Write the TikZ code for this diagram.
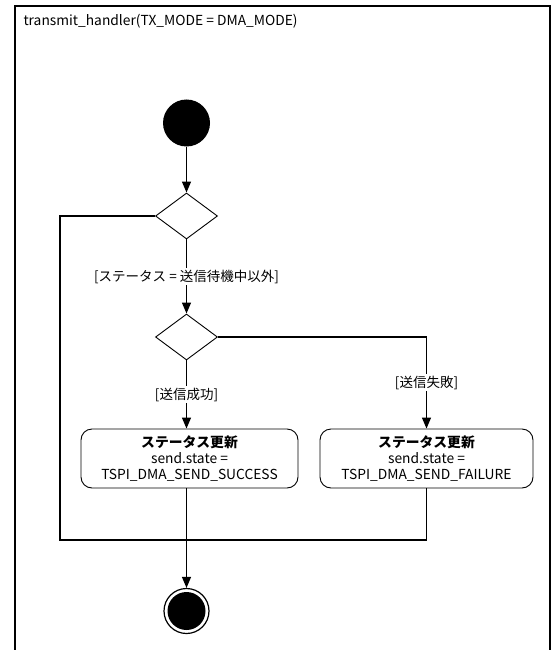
\documentclass[tikz,border=0pt]{standalone}
\usepackage{fontspec}
\setmainfont{Noto Sans CJK JP}
\usepackage{tikz}
\usetikzlibrary{arrows.meta,shapes.geometric,positioning,calc}

\tikzset{
  flow/.style = {line width = 1.2pt, -{Triangle[length = 11pt, width = 9pt]}},
  plain/.style = {line width = 1.2pt},
  decision/.style = {diamond, draw, line width = 0.9pt, fill = white,
    minimum width = 62pt, minimum height = 46pt, inner sep = 0pt},
  action/.style = {draw, line width = 0.9pt, rounded corners = 11pt, fill = white,
    minimum height = 59pt, align = center, inner sep = 2pt},
  guard/.style = {fill = white, inner sep = 1.5pt, font = \fontsize{13.5}{16}\selectfont}
}

\begin{document}
\begin{tikzpicture}[x = 1pt, y = -1pt, font = \fontsize{13.8}{16}\selectfont]
    \useasboundingbox (0,0) rectangle (552,650);
    % frame
    \draw[line width = 1.8pt] (15,652) -- (15,6) -- (550,6) -- (550,652);
    \node[anchor = west] (title) at (20,21) {transmit\_handler(TX\_MODE = DMA\_MODE)};

    \node[circle, fill = black, minimum size = 47pt, inner sep = 0pt] (start) at (186.5,123) {};
    \node[decision] (dec1) at (186.5,216) {};
    \node[decision] (dec2) at (186.5,337) {};
    \node[action, minimum width = 217pt] (okbox) at (189.5,458.5)
      {\textbf{ステータス更新}\\send.state =\\TSPI\_DMA\_SEND\_SUCCESS};
    \node[action, minimum width = 213pt] (ngbox) at (426.5,458.5)
      {\textbf{ステータス更新}\\send.state =\\TSPI\_DMA\_SEND\_FAILURE};
    \node[circle, draw, line width = 1.2pt, fill = white, minimum size = 45pt, inner sep = 0pt] (end) at (186.5,611) {};
    \node[circle, fill = black, minimum size = 38pt, inner sep = 0pt] at (end) {};

    \coordinate (loopL) at (60,540);
    \coordinate (loopR) at (426.5,540);

    \draw[flow] (start) -- (dec1);
    \draw[flow] (dec1) -- node[guard] {[ステータス = 送信待機中以外]} (dec2);
    \draw[flow] (dec2.south) -- node[guard] {[送信成功]} (dec2.south |- okbox.north);
    \draw[flow] (dec2.east) -| node[guard, pos = 0.75] {[送信失敗]} (ngbox.north);
    \draw[plain] (dec1.west) -| (loopL) -- (loopR) -- (ngbox.south);
    \draw[flow] (okbox.south -| end) -- (end);
  \end{tikzpicture}
\end{document}
